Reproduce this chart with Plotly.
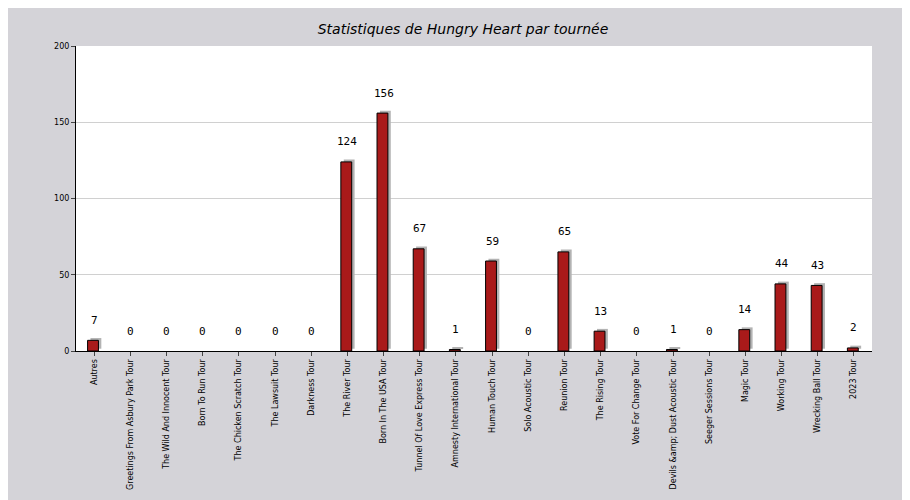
import plotly.graph_objects as go

tours = ["Autres", "Greetings From Asbury Park Tour", "The Wild And Innocent Tour",
         "Born To Run Tour", "The Chicken Scratch Tour", "The Lawsuit Tour",
         "Darkness Tour", "The River Tour", "Born In The USA Tour",
         "Tunnel Of Love Express Tour", "Amnesty International Tour",
         "Human Touch Tour", "Solo Acoustic Tour", "Reunion Tour", "The Rising Tour",
         "Vote For Change Tour", "Devils &amp;amp; Dust Acoustic Tour",
         "Seeger Sessions Tour", "Magic Tour", "Working Tour", "Wrecking Ball Tour",
         "2023 Tour"]
counts = [7, 0, 0, 0, 0, 0, 0, 124, 156, 67, 1, 59, 0, 65, 13, 0, 1, 0, 14, 44, 43, 2]

fig = go.Figure()
# shadow
fig.add_trace(go.Bar(x=tours, y=counts, width=0.3, offset=-0.1, base=1.5,
                     marker=dict(color="#b3b3b3", line=dict(width=0)),
                     hoverinfo="skip", showlegend=False))
# bars
fig.add_trace(go.Bar(x=tours, y=counts, width=0.3, offset=-0.18,
                     marker=dict(color="#a91a1a",
                                 line=dict(color="black", width=[1 if c > 0 else 0 for c in counts])),
                     showlegend=False))

for t, c in zip(tours, counts):
    fig.add_annotation(x=t, y=c, text=str(c), showarrow=False, yshift=20,
                       font=dict(family="DejaVu Sans Mono", size=11, color="black"))

fig.update_layout(
    width=910, height=500,
    paper_bgcolor="#d4d3d8", plot_bgcolor="white",
    barmode="overlay",
    margin=dict(l=68, r=46, t=38, b=157),
    title=dict(text="<i>Statistiques de Hungry Heart par tournée</i>", x=0.5, y=0.968,
               font=dict(family="DejaVu Sans", size=14, color="black")),
    xaxis=dict(tickangle=-90, tickfont=dict(family="DejaVu Sans", size=8, color="black"),
               showline=True, linecolor="black", ticks="outside", ticklen=4,
               automargin=False),
    yaxis=dict(range=[0, 200], dtick=50, gridcolor="#d0d0d0",
               tickfont=dict(family="DejaVu Sans", size=8, color="black"),
               showline=True, linecolor="black", ticks="outside", ticklen=4,
               zeroline=False, automargin=False),
)

fig.write_html("out.html")
